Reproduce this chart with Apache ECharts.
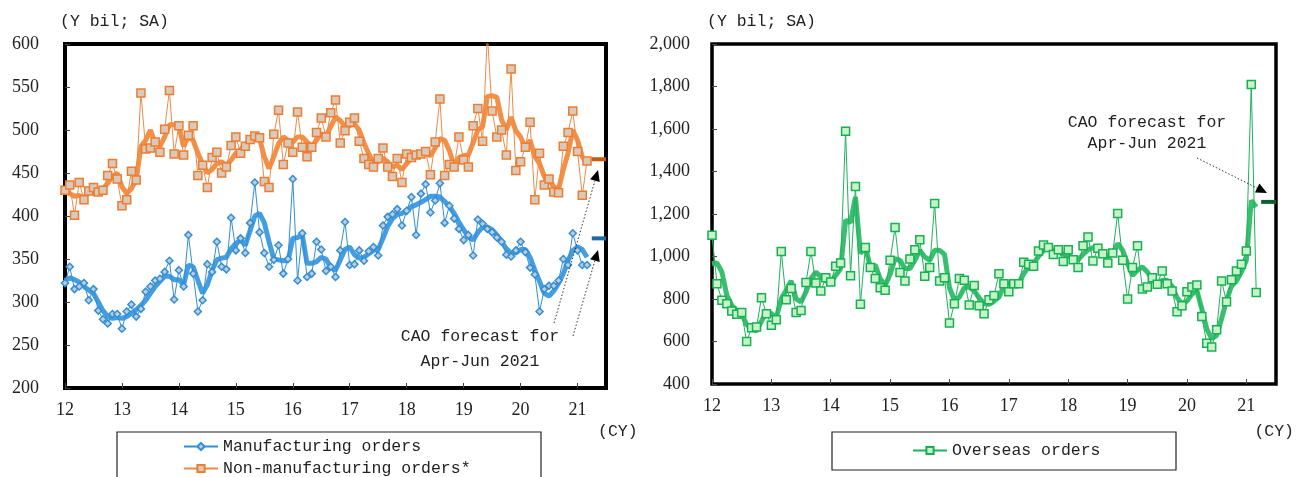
<!DOCTYPE html>
<html><head><meta charset="utf-8">
<script src="https://cdn.jsdelivr.net/npm/echarts@6/dist/echarts.min.js"></script>
<style>html,body{margin:0;padding:0;background:#fff}#c{width:1296px;height:477px}</style>
</head><body><div id="c"></div><script>
// Monthly data, Jan 2012 (index 0) .. Mar 2021 (index 110)
const yearLabels = ['12','13','14','15','16','17','18','19','20','21'];

const mfgOrders = [322,341,315,318,322,302,315,290,280,275,286,286,
 269,289,297,283,292,312,318,325,327,335,348,303,
 337,318,378,333,289,302,344,335,370,341,338,398,
 360,374,357,392,439,381,357,341,349,366,333,350,
 443,325,380,329,333,370,361,336,341,329,360,393,
 343,344,360,348,359,364,354,389,399,402,408,389,
 406,422,378,426,437,404,418,438,392,412,397,385,
 372,378,354,396,391,385,381,375,370,355,353,360,
 370,358,340,332,289,315,319,319,325,350,343,380,
 360,343,343];
const mfgTrend = [325,328,326,323,318,314,310,300,290,283,281,282,
 281,283,287,291,296,302,310,318,324,330,330,326,
 326,320,343,341,325,310,320,337,349,351,352,362,
 368,372,366,383,400,403,392,370,350,349,348,348,
 374,375,378,345,345,347,352,350,340,337,349,361,
 364,355,351,352,356,360,361,374,388,397,402,403,
 406,411,413,416,419,423,423,422,417,411,403,393,
 384,376,372,381,387,387,384,378,370,362,357,357,
 361,361,352,337,324,310,307,313,322,333,348,360,
 364,361,352];
const nonMfgOrders = [430,436,401,439,419,429,433,428,430,447,461,443,
 412,419,452,442,543,478,479,486,474,501,546,472,
 505,471,494,505,447,459,433,468,474,450,457,482,
 492,473,481,489,493,491,440,433,495,523,460,485,
 474,521,480,469,480,497,514,492,520,535,485,499,
 509,514,487,467,460,457,467,479,457,446,467,439,
 472,468,471,472,475,448,486,536,447,460,457,492,
 465,457,505,525,487,612,522,492,500,471,571,453,
 463,480,509,419,473,436,443,428,427,481,497,522,
 475,424,464];
const nonMfgTrend = [428,426,423,424,421,428,427,428,432,438,446,450,
 434,426,432,442,481,488,500,485,481,492,506,506,
 504,481,492,488,473,461,450,454,461,463,459,465,
 473,477,483,488,492,490,469,455,469,484,492,488,
 486,492,492,486,481,488,496,492,504,515,511,504,
 505,507,500,485,472,462,463,467,463,457,459,454,
 461,467,471,471,473,470,479,490,488,476,458,468,
 470,471,485,500,504,539,540,538,512,500,515,499,
 492,479,488,469,461,446,442,434,431,454,473,500,
 488,469,461];
const overseasOrders = [1100,872,794,778,743,728,737,600,665,668,806,731,
 677,702,1023,797,850,737,746,878,1023,875,838,900,
 880,954,970,1590,910,1330,775,1042,948,897,853,841,
 982,1136,925,885,988,1032,1079,907,948,1250,885,900,
 687,778,897,888,772,863,768,731,797,816,919,872,
 834,872,872,973,963,954,1026,1054,1042,1010,1032,976,
 1032,985,948,1051,1092,979,1039,1013,970,1017,1202,982,
 800,948,1051,847,856,900,869,932,872,838,740,768,
 834,856,866,718,592,574,655,885,787,891,932,963,
 1026,1810,831];
const overseasTrend = [966,970,927,817,770,746,731,680,660,649,696,739,
 731,712,801,841,885,801,786,833,896,927,904,885,
 880,911,943,1170,1160,1280,1014,1045,951,959,896,864,
 916,990,982,943,943,982,1029,998,982,1029,1029,1010,
 853,794,809,853,856,838,806,778,775,790,809,860,
 875,872,875,919,951,966,1001,1029,1037,1029,1026,1010,
 1006,990,985,1010,1032,1042,1029,1010,1001,1014,1061,1029,
 966,911,935,951,927,891,872,888,888,860,806,778,
 790,822,841,754,660,613,629,707,794,860,885,927,
 982,1264,1233];
// CAO forecast for Apr-Jun 2021 (months 111..114)
const forecastPeriod = [111, 114];
const forecastMfg = 374;
const forecastNonMfg = 466;
const forecastOverseas = 1257;

const pairs = arr => arr.map((v, i) => [i, v]);
const fc = v => forecastPeriod.map(m => [m, v]);

const MONO = 'Liberation Mono';
const SERIF = 'Liberation Serif';

const chart = echarts.init(document.getElementById('c'));

function xAxisCfg(gi) {
  return {
    type: 'value', gridIndex: gi, min: 0, max: 114, interval: 12,
    axisLine: {show: false},
    axisTick: {show: true, inside: true, length: 5, lineStyle: {color: '#444', width: 1}},
    axisLabel: {margin: 13, fontFamily: SERIF, fontSize: 18, color: '#222', showMaxLabel: false,
      formatter: v => (v % 12 === 0 && v / 12 < yearLabels.length) ? yearLabels[v / 12] : ''},
    splitLine: {show: false}
  };
}

function arrowEls(x1, y1, x2, y2) {
  const a = Math.atan2(y2 - y1, x2 - x1);
  const L = 11, W = 5;
  const bx = x2 - L * Math.cos(a), by = y2 - L * Math.sin(a);
  const px = -Math.sin(a), py = Math.cos(a);
  return [
    {type: 'line', shape: {x1: x1, y1: y1, x2: bx, y2: by}, style: {stroke: '#333', lineWidth: 1, lineDash: [1.5, 2]}, z: 100},
    {type: 'polygon', shape: {points: [[x2, y2], [bx + px * W, by + py * W], [bx - px * W, by - py * W]]}, style: {fill: '#000'}, z: 100}
  ];
}

function txt(x, y, s, align) {
  return {type: 'text', x: x, y: y, z: 100, style: {text: s, font: '16.5px "' + MONO + '"', fill: '#222', align: align || 'left', verticalAlign: 'middle'}};
}

const graphics = [
  txt(60, 22, '(Y bil; SA)'),
  txt(707, 22, '(Y bil; SA)'),
  txt(598, 432, '(CY)'),
  txt(1294, 432, '(CY)', 'right'),
  txt(480, 337, 'CAO forecast for', 'center'),
  txt(480, 362, 'Apr-Jun 2021', 'center'),
  txt(1147, 123, 'CAO forecast for', 'center'),
  txt(1147, 144, 'Apr-Jun 2021', 'center'),
  {type: 'rect', shape: {x: 117, y: 432, width: 424, height: 70}, style: {fill: '#fff', stroke: '#222', lineWidth: 1.2}, z: 0},
  {type: 'rect', shape: {x: 832, y: 432, width: 344, height: 38}, style: {fill: '#fff', stroke: '#222', lineWidth: 1.2}, z: 0}
].concat(arrowEls(554, 323, 598, 170), arrowEls(573, 336, 598, 250), arrowEls(1197, 158, 1267, 193));

const option = {
  animation: false,
  backgroundColor: '#fff',
  grid: [
    {left: 65, top: 44, width: 541, height: 344, show: true, borderColor: '#000', borderWidth: 4, backgroundColor: 'transparent'},
    {left: 712, top: 44, width: 564, height: 340, show: true, borderColor: '#000', borderWidth: 3.5, backgroundColor: 'transparent'}
  ],
  xAxis: [xAxisCfg(0), xAxisCfg(1)],
  yAxis: [
    {type: 'value', gridIndex: 0, min: 200, max: 600, interval: 50,
      axisLine: {show: false},
      axisTick: {show: true, inside: true, length: 5, lineStyle: {color: '#444'}},
      axisLabel: {margin: 26, fontFamily: SERIF, fontSize: 18, color: '#222'},
      splitLine: {show: false}},
    {type: 'value', gridIndex: 1, min: 400, max: 2000, interval: 200,
      axisLine: {show: false},
      axisTick: {show: true, inside: true, length: 5, lineStyle: {color: '#444'}},
      axisLabel: {margin: 22, fontFamily: SERIF, fontSize: 18, color: '#222',
        formatter: v => v.toLocaleString('en-US')},
      splitLine: {show: false}}
  ],
  legend: [
    {data: ['Manufacturing orders', 'Non-manufacturing orders*'], orient: 'vertical', left: 183, top: 438,
      itemWidth: 34, itemHeight: 9, itemGap: 5, padding: 0,
      textStyle: {fontFamily: MONO, fontSize: 16.5, color: '#222'}},
    {data: ['Overseas orders'], left: 912, top: 442, itemWidth: 34, itemHeight: 9, padding: 0,
      textStyle: {fontFamily: MONO, fontSize: 16.5, color: '#222'}}
  ],
  graphic: graphics,
  series: [
    {name: 'mfgTrend', type: 'line', xAxisIndex: 0, yAxisIndex: 0, data: pairs(mfgTrend), showSymbol: false,
      lineStyle: {width: 5, color: '#3a98dc', opacity: 0.95}, z: 2},
    {name: 'nonMfgTrend', type: 'line', xAxisIndex: 0, yAxisIndex: 0, data: pairs(nonMfgTrend), showSymbol: false,
      lineStyle: {width: 5, color: '#f08a3c', opacity: 0.95}, z: 2},
    {name: 'Manufacturing orders', type: 'line', xAxisIndex: 0, yAxisIndex: 0, data: pairs(mfgOrders),
      symbol: 'diamond', symbolSize: 7, clip: true,
      lineStyle: {width: 1, color: '#2f8fd8'},
      itemStyle: {color: '#c4ccd2', borderColor: '#2f8fd8', borderWidth: 1.5}, z: 3},
    {name: 'Non-manufacturing orders*', type: 'line', xAxisIndex: 0, yAxisIndex: 0, data: pairs(nonMfgOrders),
      symbol: 'rect', symbolSize: 8, clip: true,
      lineStyle: {width: 1, color: '#ef8a46'},
      itemStyle: {color: '#d8c9bb', borderColor: '#ed7d31', borderWidth: 1.5}, z: 3},
    {name: 'fcMfg', type: 'line', xAxisIndex: 0, yAxisIndex: 0, data: fc(forecastMfg), showSymbol: false,
      lineStyle: {width: 4, color: '#1f6aa5'}, z: 4},
    {name: 'fcNonMfg', type: 'line', xAxisIndex: 0, yAxisIndex: 0, data: fc(forecastNonMfg), showSymbol: false,
      lineStyle: {width: 4, color: '#c55a11'}, z: 4},
    {name: 'overseasTrend', type: 'line', xAxisIndex: 1, yAxisIndex: 1, data: pairs(overseasTrend), showSymbol: false,
      lineStyle: {width: 5, color: '#2dbb66', opacity: 0.95}, z: 2},
    {name: 'Overseas orders', type: 'line', xAxisIndex: 1, yAxisIndex: 1, data: pairs(overseasOrders),
      symbol: 'rect', symbolSize: 8,
      lineStyle: {width: 1, color: '#1db35a'},
      itemStyle: {color: '#c8f2c8', borderColor: '#17b052', borderWidth: 1.5}, z: 3},
    {name: 'fcOverseas', type: 'line', xAxisIndex: 1, yAxisIndex: 1, data: fc(forecastOverseas), showSymbol: false,
      lineStyle: {width: 4, color: '#0d5f2f'}, z: 4}
  ]
};
chart.setOption(option);
</script></body></html>
